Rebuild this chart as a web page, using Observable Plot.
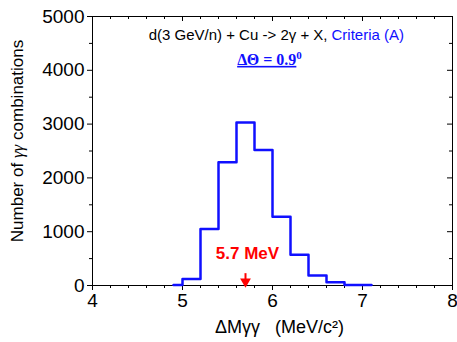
<!DOCTYPE html>
<html><head><meta charset="utf-8">
<script src="https://cdn.jsdelivr.net/npm/d3@7"></script>
<script src="https://cdn.jsdelivr.net/npm/@observablehq/plot@0.6"></script>
<style>
body{margin:0;background:#fff}
svg{font-family:"Liberation Sans",Arial,sans-serif}
</style>
</head><body><div id="chart"></div><script>
// histogram data (ΔMγγ bins, MeV/c²) and counts
const binStarts = [4.9, 5.0, 5.2, 5.4, 5.6, 5.8, 6.0, 6.2, 6.4, 6.6, 6.8];
const binEnds   = [5.0, 5.2, 5.4, 5.6, 5.8, 6.0, 6.2, 6.4, 6.6, 6.8, 7.1];
const counts    = [8, 120, 1050, 2290, 3030, 2520, 1280, 570, 185, 60, 8];

// ticks
const xTicks = [4, 5, 6, 7, 8];
const xMinorTicks = [4.2,4.4,4.6,4.8,5.2,5.4,5.6,5.8,6.2,6.4,6.6,6.8,7.2,7.4,7.6,7.8];
const yTicks = [0, 1000, 2000, 3000, 4000, 5000];
const yMinorTicks = [500, 1500, 2500, 3500, 4500];

// annotations
const peakX = [5.7];
const peakLabel = ["5.7 MeV"];
const peakLabelY = [600];
const arrowTopY = [220];
const titleBlack = "d(3 GeV/n) + Cu -> 2γ + X,";
const titleBlue = "Criteria (A)";
const subTitle = "ΔΘ = 0.9";
const xLabel = "ΔMγγ\u00a0\u00a0\u00a0(MeV/c²)";
const yLabel = "Number of γγ combinations";

const steps = binStarts.map((s, i) => ({x: s, y: counts[i]}));
steps.push({x: binEnds[binEnds.length - 1], y: counts[counts.length - 1]});

const W = 457, H = 342, mL = 92, mR = 5, mT = 16, mB = 57;
const frameW = W - mL - mR, frameH = H - mT - mB;
const blue = "#1010ff";

const chart = Plot.plot({
  width: W, height: H,
  marginLeft: mL, marginRight: mR, marginTop: mT, marginBottom: mB,
  x: {domain: [4, 8]},
  y: {domain: [0, 5000]},
  style: {fontFamily: '"Liberation Sans", Arial, sans-serif', background: "#fff"},
  marks: [
    Plot.axisX({ticks: xTicks, tickSize: 5, tickPadding: 3, fontSize: 19, label: null, tickFormat: d => String(d)}),
    Plot.axisX({ticks: xMinorTicks, tickSize: 3, label: null, text: null}),
    Plot.axisY({ticks: yTicks, tickSize: 5, tickPadding: 3, fontSize: 19, label: null, tickFormat: d => String(d)}),
    Plot.axisY({ticks: yMinorTicks, tickSize: 3, label: null, text: null}),
    // inward ticks on top and right
    Plot.tickX(xTicks.slice(1, -1), {x: d => d, insetBottom: frameH - 5, stroke: "#000"}),
    Plot.tickX(xMinorTicks, {x: d => d, insetBottom: frameH - 3, stroke: "#000"}),
    Plot.tickY(yTicks.slice(1, -1), {y: d => d, insetLeft: frameW - 5, stroke: "#000"}),
    Plot.tickY(yMinorTicks, {y: d => d, insetLeft: frameW - 3, stroke: "#000"}),
    Plot.frame({stroke: "#000", strokeWidth: 1}),
    Plot.line(steps, {x: "x", y: "y", curve: "step-after", stroke: blue, strokeWidth: 2.5}),
    // annotation arrow
    Plot.ruleX(peakX, {x: d => d, y1: 0, y2: (d, i) => arrowTopY[i], stroke: "#ff0000", strokeWidth: 2}),
    Plot.dot(peakX, {x: d => d, y: 0, symbol: "triangle", rotate: 180, r: 4, fill: "#ff0000", stroke: "none", dy: -4}),
    Plot.text(peakX, {x: d => d, y: (d, i) => peakLabelY[i], text: (d, i) => peakLabel[i], fill: "#ff0000", fontWeight: "bold", fontSize: 17, dx: 2}),
    // titles
    Plot.text([titleBlack], {frameAnchor: "top", dy: 13, dx: 55, textAnchor: "end", fontSize: 15, fill: "#000"}),
    Plot.text([titleBlue], {frameAnchor: "top", dy: 13, dx: 59, textAnchor: "start", fontSize: 15, fill: blue}),
    Plot.text([subTitle], {frameAnchor: "top", dy: 37, dx: -3, fontSize: 16, fontWeight: "bold", fontFamily: '"Liberation Serif", "Times New Roman", serif', fill: blue}),
    // axis labels
    Plot.text([xLabel], {frameAnchor: "bottom", dy: 47, dx: 7, fontSize: 18, fill: "#000"}),
    Plot.text([yLabel], {frameAnchor: "left", dx: -75, dy: -10, rotate: -90, textAnchor: "middle", fontSize: 17, fill: "#000"})
  ]
});
document.getElementById("chart").appendChild(chart);

// Post-process: superscript and underline in subtitle, italic γγ
const svg = d3.select(chart);
svg.selectAll("text").each(function() {
  const t = d3.select(this);
  const s = this.textContent;
  if (s === subTitle) {
    t.text(null);
    t.append("tspan").text(subTitle).style("text-decoration", "underline");
    t.append("tspan").text("0").attr("dy", "-0.5em").attr("font-size", "11");
  } else if (s === yLabel) {
    t.text(null);
    t.append("tspan").text("Number of ");
    t.append("tspan").text("γγ").attr("font-style", "italic").attr("font-family", '"Liberation Serif", serif');
    t.append("tspan").text(" combinations");
  }
});
</script></body></html>
